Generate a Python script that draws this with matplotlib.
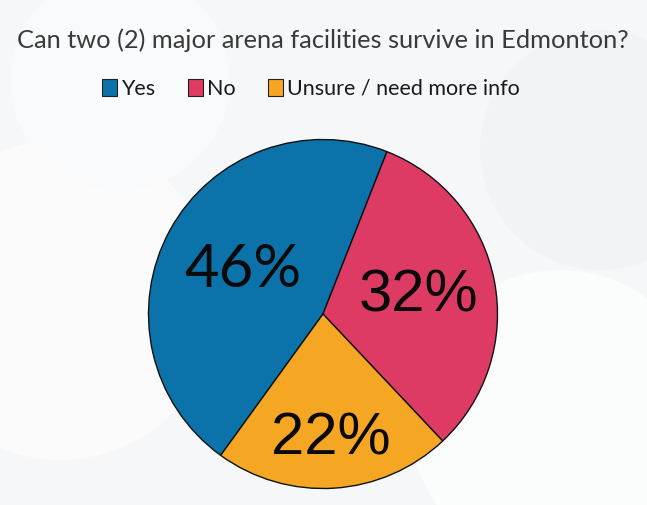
import matplotlib
matplotlib.use("Agg")
import matplotlib.pyplot as plt
import numpy as np

categories = ["Yes", "No", "Unsure / need more info"]
values = [46, 32, 22]
pct_labels = ["46%", "32%", "22%"]
title = "Can two (2) major arena facilities survive in Edmonton?"

colors = ["#0B72AA", "#DD3B63", "#F5A623"]
label_dist = [0.52, 0.56, 0.72]
label_fonts = ["Lato", "Liberation Sans", "Liberation Sans"]

W, H = 647, 505
fig = plt.figure(figsize=(W / 100, H / 100), dpi=100)
fig.patch.set_facecolor("#F6F7F9")

# faint background bubbles
bg = fig.add_axes([0, 0, 1, 1], zorder=-1)
bg.set_xlim(0, W); bg.set_ylim(H, 0); bg.axis("off")
for (x0, y0, r, c) in [(60, 300, 160, "#FBFBFC"), (560, 420, 150, "#FBFCFC"),
                       (600, 150, 120, "#F1F3F5"), (120, 80, 110, "#F9FAFB")]:
    bg.add_patch(plt.Circle((x0, y0), r, color=c, lw=0))

cx, cy, R = 323, 314, 174.5
ax = fig.add_axes([(cx - R) / W, (H - cy - R) / H, 2 * R / W, 2 * R / H])
wedges, _ = ax.pie(values, colors=colors, startangle=68.5 + 3.6 * values[0],
                   counterclock=False,
                   wedgeprops=dict(edgecolor="#111111", linewidth=1.0))
ax.set_xlim(-1, 1); ax.set_ylim(-1, 1)
ax.set_aspect("auto")
ax.axis("off")

for w, lab, d, fnt in zip(wedges, pct_labels, label_dist, label_fonts):
    th = np.deg2rad((w.theta1 + w.theta2) / 2)
    ax.text(d * np.cos(th), d * np.sin(th), lab, ha="center", va="center",
            fontsize=43, family=fnt, color="#0A0A0A")

fig.text(323 / W, 1 - 40 / H, title, ha="center", va="center",
         fontsize=18.3, family="Lato", color="#3A3A3A")

handles = [plt.Rectangle((0, 0), 1, 1, facecolor=c, edgecolor="#222222", lw=0.8)
           for c in colors]
fig.legend(handles, categories, loc="center", bbox_to_anchor=(311 / W, 1 - 89 / H),
           ncol=3, frameon=False, prop=dict(family="Lato", size=15.5),
           handlelength=0.7, handleheight=0.8, handletextpad=0.2,
           columnspacing=1.5, labelcolor="#1A1A1A")

fig.savefig("out.png", dpi=100, facecolor=fig.get_facecolor())
